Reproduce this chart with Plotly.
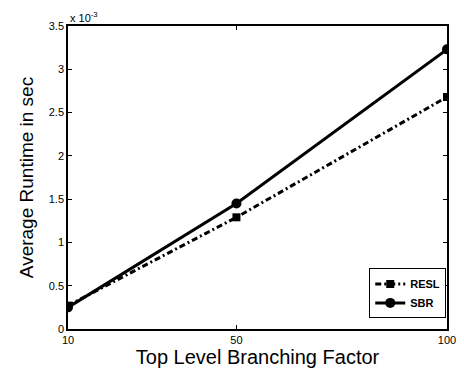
import plotly.graph_objects as go

branching = [10, 50, 100]
resl_runtime = [0.27e-3, 1.29e-3, 2.68e-3]
sbr_runtime = [0.25e-3, 1.45e-3, 3.23e-3]
y_ticks = [0, 0.5e-3, 1e-3, 1.5e-3, 2e-3, 2.5e-3, 3e-3, 3.5e-3]
y_ticklabels = ["0", "0.5", "1", "1.5", "2", "2.5", "3", "3.5"]
x_ticks = [10, 50, 100]

fig = go.Figure()
fig.add_trace(go.Scatter(x=branching, y=resl_runtime, name="<b>RESL</b>",
                         mode="lines+markers",
                         line=dict(color="black", width=3, dash="6px,3px,2px,3px"),
                         marker=dict(symbol="square", size=8, color="black")))
fig.add_trace(go.Scatter(x=branching, y=sbr_runtime, name="<b>SBR</b>",
                         mode="lines+markers",
                         line=dict(color="black", width=3),
                         marker=dict(symbol="circle", size=10, color="black")))

axis_common = dict(showline=True, linecolor="black", linewidth=1.5, mirror="ticks",
                   ticks="inside", ticklen=4, tickcolor="black", showgrid=False,
                   zeroline=False, tickfont=dict(family="Arial, Liberation Sans", size=11, color="black"))

fig.update_layout(
    width=464, height=371,
    margin=dict(l=68, r=8, t=26, b=42),
    plot_bgcolor="white", paper_bgcolor="white",
    font=dict(family="Arial, Liberation Sans", color="black"),
    xaxis=dict(range=[10, 100], tickvals=x_ticks,
               title=dict(text="Top Level Branching Factor", font=dict(size=20), standoff=2),
               **axis_common),
    yaxis=dict(range=[0, 3.5e-3], tickvals=y_ticks, ticktext=y_ticklabels,
               title=dict(text="Average Runtime in sec", font=dict(size=19), standoff=10),
               **axis_common),
    legend=dict(x=0.998, y=0.035, xanchor="right", yanchor="bottom",
                bgcolor="white", bordercolor="black", borderwidth=1,
                font=dict(size=11, family="Arial, Liberation Sans"),
                tracegroupgap=0, itemwidth=30),
    showlegend=True,
    annotations=[dict(text="x 10<sup>-3</sup>", xref="paper", yref="paper",
                      x=0, y=1, xanchor="left", yanchor="bottom", showarrow=False,
                      font=dict(size=11, family="Arial, Liberation Sans"))],
)

fig.write_html("out.html", config={"displayModeBar": False},
               post_script="document.body.style.margin='0';document.body.style.padding='0';")
